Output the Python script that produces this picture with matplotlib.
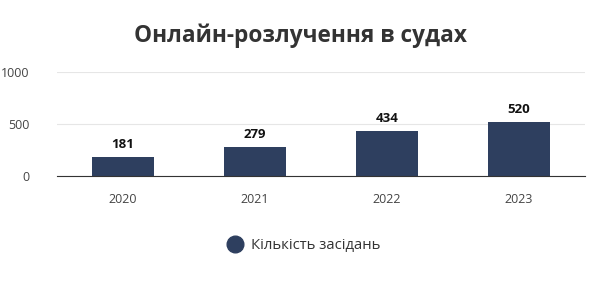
import matplotlib.pyplot as plt
import numpy as np

plt.rcParams['font.family'] = ['Open Sans', 'DejaVu Sans']

years = ['2020', '2021', '2022', '2023']
sessions = [181, 279, 434, 520]
bar_color = '#2e3f5f'

fig = plt.figure(figsize=(6, 2.84), dpi=100)
ax = fig.add_axes([0.095, 0.38, 0.88, 0.366])

x = np.arange(len(years))
ax.bar(x, sessions, width=0.47, color=bar_color, zorder=3, label='Кількість засідань')

# value labels above bars
for xi, v in zip(x, sessions):
    ax.text(xi, v + 60, str(v), ha='center', va='bottom', fontsize=9.5,
            fontweight='bold', color='#111111')

ax.set_xlim(-0.5, 3.5)
ax.set_ylim(0, 1000)
ax.set_yticks([0, 500, 1000])
ax.set_xticks(x)
ax.set_xticklabels(years)
ax.tick_params(axis='both', length=0, labelsize=9, colors='#444444')
ax.tick_params(axis='x', pad=12)
ax.tick_params(axis='y', pad=20)
ax.grid(axis='y', color='#e6e6e6', linewidth=0.8, zorder=0)
for s in ['top', 'right', 'left']:
    ax.spines[s].set_visible(False)
ax.spines['bottom'].set_color('#333333')
ax.spines['bottom'].set_linewidth(0.8)
ax.spines['bottom'].set_zorder(4)

fig.text(0.5, 0.875, 'Онлайн-розлучення в судах', ha='center', va='center',
         fontsize=16.3, fontweight='bold', color='#333333')

handle = plt.Line2D([], [], marker='o', linestyle='', markersize=12,
                    color=bar_color)
fig.legend([handle], ['Кількість засідань'], loc='center',
           bbox_to_anchor=(0.5, 0.135), frameon=False, fontsize=10.7,
           handletextpad=0.1, labelcolor='#333333')

fig.savefig('out.png', dpi=100, facecolor='white')
